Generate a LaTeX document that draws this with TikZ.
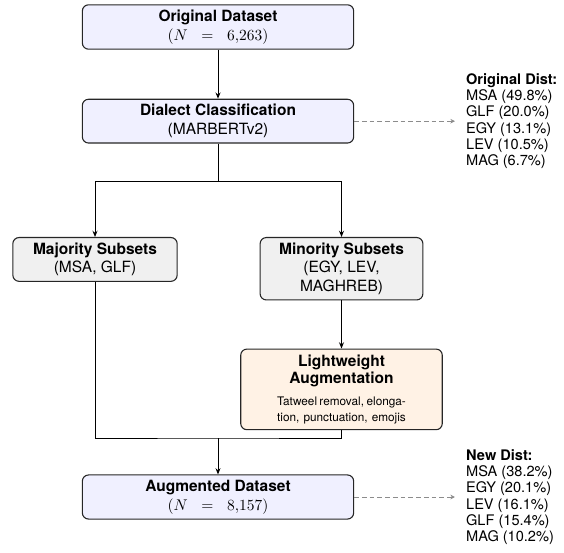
\documentclass[tikz,border=0pt]{standalone}
\usepackage{fontspec}
\setmainfont{TeX Gyre Heros}
\usetikzlibrary{arrows.meta, positioning}

\begin{document}
\begin{tikzpicture}[
    x=0.645pt, y=-0.645pt,
    node distance=1.0cm,
    stage/.style={rectangle, rounded corners=4pt, draw=black!85, line width=0.7pt, fill=blue!6, minimum width=175pt, minimum height=28pt, align=center, font=\normalsize},
    subset/.style={stage, fill=black!6},
    augbox/.style={stage, fill=orange!10},
    dist/.style={align=left, font={\fontsize{9.4}{10.5}\selectfont}, inner sep=2pt},
    arrow/.style={-{Stealth[length=4pt, width=3.2pt]}, line width=0.6pt},
    distarrow/.style={-{Stealth[length=3pt, width=3pt]}, dash pattern=on 3pt off 2pt, draw=black!45, line width=0.5pt, shorten >=5pt}
]
    \useasboundingbox (0,0) rectangle (564,553);

    \node[stage] (original) at (218,27) {\textbf{Original Dataset}\\$(N\hspace{6pt}=\hspace{6pt}6{,}263)$};
    \node[stage, below=31.6pt of original] (dialect) {\textbf{Dialect Classification}\\(MARBERTv2)};
    \node[subset, minimum width=106pt, anchor=north] (majority) at (95,237) {\textbf{Majority Subsets}\\(MSA, GLF)};
    \node[subset, minimum width=105pt, anchor=north] (minority) at (341.5,237) {\textbf{Minority Subsets}\\(EGY, LEV,\\MAGHREB)};
    \node[augbox, minimum width=130pt, minimum height=52pt, below=31pt of minority] (light) {\textbf{Lightweight}\\[-1pt]\textbf{Augmentation}\\[2.2pt]%
        \parbox[t]{83pt}{\fontsize{7.6}{10.3}\selectfont
        \makebox[83pt][s]{Tatweel removal, elonga-}\\\makebox[83pt][s]{tion, punctuation, emojis}}};
    \node[stage] (augmented) at (218,497) {\textbf{Augmented Dataset}\\$(N\hspace{6pt}=\hspace{6pt}8{,}157)$};

    \node[dist, right=70pt of dialect] (origdist) {\textbf{Original Dist:}\\MSA (49.8\%)\\GLF (20.0\%)\\EGY (13.1\%)\\LEV (10.5\%)\\MAG (6.7\%)};
    \node[dist, right=70pt of augmented] (newdist) {\textbf{New Dist:}\\MSA (38.2\%)\\EGY (20.1\%)\\LEV (16.1\%)\\GLF (15.4\%)\\MAG (10.2\%)};

    \coordinate (split) at (218,181);
    \coordinate (merge) at (218,438);

    \draw[arrow] (original) -- (dialect);
    \draw[line width=0.6pt] (dialect.south) -- (split);
    \draw[arrow] (split) -| (majority.north);
    \draw[arrow] (split) -| (minority.north);
    \draw[arrow] (minority) -- (light);
    \draw[line width=0.6pt] (majority.south) |- (merge) -| (light.south);
    \draw[arrow] (merge) -- (augmented);

    \draw[distarrow] (dialect) -- (origdist);
    \draw[distarrow] (augmented) -- (newdist);
\end{tikzpicture}
\end{document}
